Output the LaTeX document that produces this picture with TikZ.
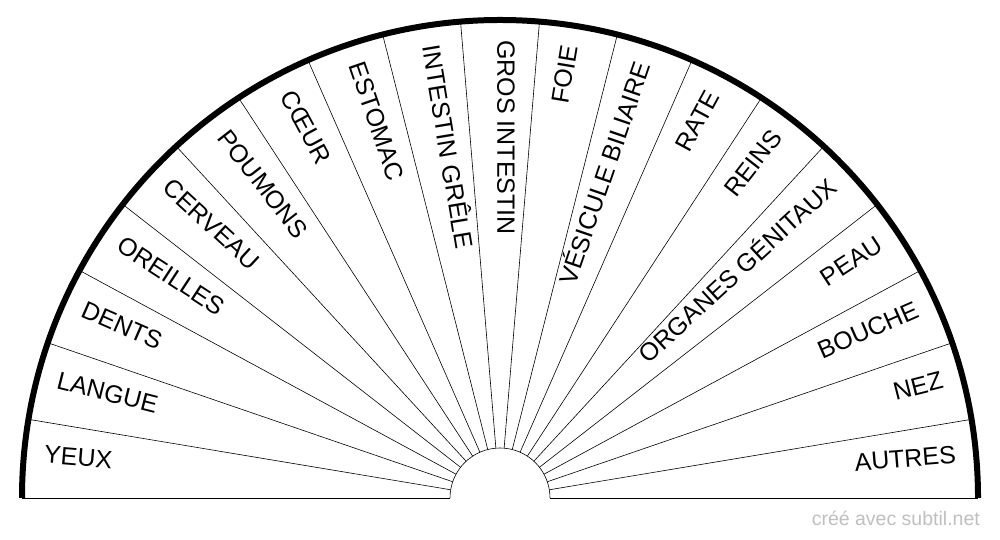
\documentclass[tikz,border=0pt]{standalone}
\usepackage{fontspec}
\setmainfont{Liberation Sans}
\usetikzlibrary{calc}
\tikzset{
  sector line/.style={black, line width=0.6pt},
  rim/.style={black, line width=6pt},
  organ/.style={font=\fontsize{25}{25}\selectfont, inner sep=0pt},
  credit/.style={font=\fontsize{19.5}{19.5}\selectfont, text=black!25, anchor=south east, inner sep=0pt}
}
\begin{document}
\begin{tikzpicture}[x=1pt,y=1pt]
\useasboundingbox (0,0) rectangle (1000,540);
\coordinate (c) at (500,42);
% base line
\draw[sector line] (22,42) -- (450,42);
\draw[sector line] (550,42) -- (978,42);
\draw[sector line] (550,42) arc (0:180:50);
% radial lines and labels
\foreach \lab [count=\i] in {YEUX,LANGUE,DENTS,OREILLES,CERVEAU,POUMONS,C{Œ}UR,ESTOMAC,INTESTIN GRÊLE,GROS INTESTIN,FOIE,VÉSICULE BILIAIRE,RATE,REINS,ORGANES GÉNITAUX,PEAU,BOUCHE,NEZ,AUTRES}{
  \pgfmathsetmacro{\a}{180-\i*180/19}
  \pgfmathsetmacro{\m}{\a+90/19}
  \ifnum\i<19
    \draw[sector line] ($(c)+(\a:50)$) -- ($(c)+(\a:478)$);
  \fi
  \ifnum\i<11
    \pgfmathsetmacro{\r}{\m-180}
    \node[organ, anchor=mid west, rotate=\r] (o\i) at ($(c)+(\m:458)$) {\lab};
  \else
    \node[organ, anchor=mid east, rotate=\m] (o\i) at ($(c)+(\m:458)$) {\lab};
  \fi
}
% outer rim
\draw[rim] (978,42) arc (0:180:478);
\node[credit] (cred) at (980,14) {créé avec subtil.net};
\end{tikzpicture}
\end{document}
